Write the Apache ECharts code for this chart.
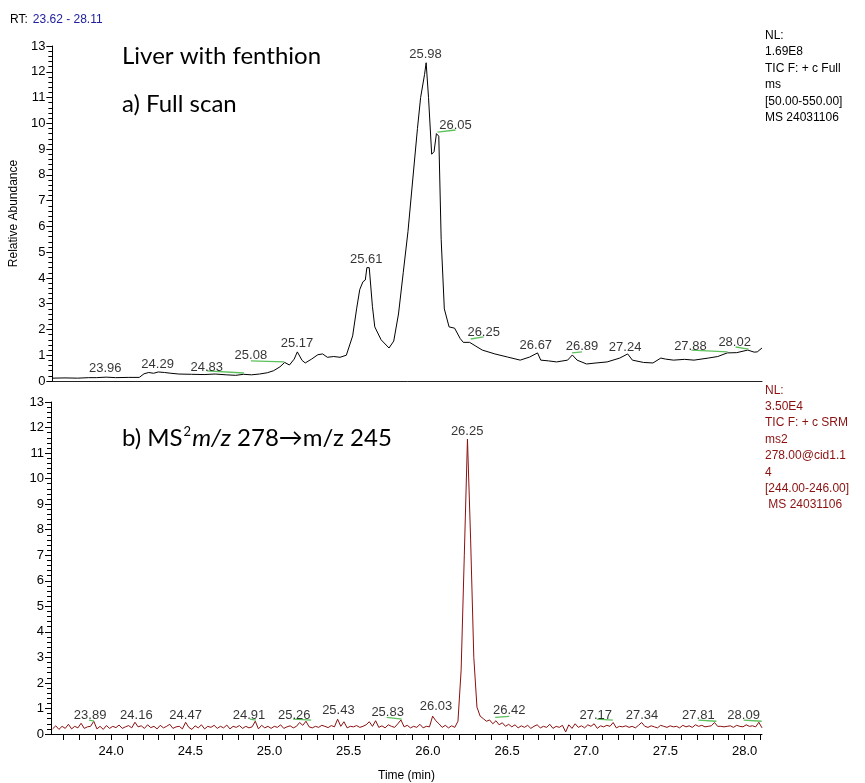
<!DOCTYPE html>
<html>
<head>
<meta charset="utf-8">
<script src="https://cdn.jsdelivr.net/npm/echarts@6/dist/echarts.min.js"></script>
<style>
html,body{margin:0;padding:0;background:#fff;}
#chart{width:865px;height:783px;}
</style>
</head>
<body>
<div id="chart"></div>
<script>
// ---------- DATA ----------
const rtMin = 23.62, rtMax = 28.11;
const yMax = 13;
const xTickLabels = [24.0, 24.5, 25.0, 25.5, 26.0, 26.5, 27.0, 27.5, 28.0];
const xMinorTicks = [23.7,23.8,23.9,24.0,24.1,24.2,24.3,24.4,24.5,24.6,24.7,24.8,24.9,25.0,25.1,25.2,25.3,25.4,25.5,25.6,25.7,25.8,25.9,26.0,26.1,26.2,26.3,26.4,26.5,26.6,26.7,26.8,26.9,27.0,27.1,27.2,27.3,27.4,27.5,27.6,27.7,27.8,27.9,28.0,28.1];

// a) Full scan TIC
const fullTimes = [23.62,23.70,23.78,23.85,23.90,23.96,24.02,24.10,24.17,24.20,24.23,24.26,24.29,24.33,24.37,24.42,24.50,24.58,24.65,24.72,24.78,24.83,24.88,24.93,24.98,25.02,25.06,25.09,25.12,25.15,25.17,25.20,25.22,25.26,25.30,25.33,25.36,25.40,25.44,25.48,25.52,25.545,25.565,25.585,25.60,25.61,25.625,25.645,25.66,25.70,25.75,25.78,25.81,25.84,25.87,25.90,25.93,25.95,25.975,25.985,26.00,26.02,26.035,26.05,26.065,26.08,26.10,26.13,26.165,26.20,26.22,26.26,26.30,26.34,26.42,26.50,26.58,26.64,26.69,26.71,26.76,26.81,26.88,26.91,26.94,27.00,27.06,27.13,27.21,27.26,27.29,27.36,27.42,27.47,27.50,27.55,27.62,27.68,27.77,27.83,27.89,27.95,28.02,28.06,28.08,28.11];
const fullValues = [0.11,0.12,0.11,0.13,0.13,0.15,0.13,0.14,0.14,0.28,0.33,0.30,0.35,0.33,0.30,0.27,0.26,0.25,0.27,0.24,0.22,0.26,0.24,0.27,0.32,0.40,0.55,0.72,0.62,0.85,1.13,0.80,0.70,0.85,1.02,1.05,0.92,0.95,0.92,1.00,1.75,2.80,3.55,3.85,3.92,4.40,4.40,2.90,2.10,1.60,1.28,1.55,2.60,4.20,5.80,7.80,9.80,11.00,11.90,12.35,11.00,8.80,8.90,9.60,9.50,5.50,2.80,2.10,2.05,1.65,1.50,1.50,1.35,1.20,1.05,0.93,0.81,0.93,1.09,0.81,0.78,0.74,0.81,1.01,0.81,0.66,0.70,0.74,0.89,1.05,0.81,0.72,0.70,0.89,0.85,0.81,0.84,0.81,0.89,0.95,1.09,1.10,1.20,1.12,1.13,1.28];

// peak labels (text, anchor time, anchor abundance)
const fullPeakText = ['23.96','24.29','24.83','25.08','25.17','25.61','25.98','26.05','26.25','26.67','26.89','27.24','27.88','28.02'];
const fullPeakLabelT = [23.955,24.286,24.597,24.876,25.168,25.606,25.981,26.171,26.349,26.679,26.971,27.244,27.657,27.937];
const fullPeakLabelV = [0.50,0.66,0.54,1.01,1.47,4.70,12.69,9.90,1.90,1.40,1.36,1.32,1.36,1.51];
// green baseline marks [t1, v1, t2, v2]
const fullBaseMarks = [
  [24.597,0.39,24.832,0.31],
  [24.876,0.78,25.086,0.74],
  [26.057,9.66,26.171,9.74],
  [26.267,1.63,26.349,1.71],
  [26.908,1.09,26.971,1.13],
  [27.663,1.20,27.892,1.13],
  [27.943,1.32,28.025,1.24]
];

// b) SRM trace, sampled every srmStep min from srmStart
const srmStart = 23.63, srmStep = 0.02;
const srmValues = [
  0.20,0.32,0.18,0.30,0.22, 0.38,0.20,0.30,0.24,0.42, 0.22,0.28,0.30,0.50,0.20, 0.30,0.18,0.33,0.22,0.30,
  0.25,0.35,0.22,0.28,0.33, 0.24,0.46,0.28,0.32,0.22, 0.36,0.25,0.30,0.20,0.34, 0.24,0.30,0.38,0.22,0.28,
  0.30,0.20,0.46,0.26,0.18, 0.32,0.24,0.36,0.20,0.30, 0.26,0.34,0.22,0.30,0.24, 0.35,0.20,0.30,0.26,0.33,
  0.22,0.30,0.24,0.28,0.50, 0.20,0.34,0.24,0.30,0.22, 0.30,0.26,0.36,0.22,0.28, 0.32,0.24,0.30,0.45,0.34,
  0.50,0.28,0.24,0.30,0.26, 0.34,0.30,0.25,0.33,0.28, 0.58,0.30,0.48,0.24,0.30, 0.28,0.33,0.26,0.30,0.36,
  0.48,0.30,0.52,0.26,0.32, 0.24,0.36,0.30,0.26,0.40, 0.55,0.28,0.34,0.24,0.30, 0.26,0.38,0.24,0.30,0.28,
  0.70,0.52,0.40,0.26,0.34, 0.24,0.32,0.26,0.50,2.50, 7.00,11.55,7.60,3.00,1.05, 0.70,0.60,0.50,0.55,0.40,
  0.52,0.36,0.44,0.30,0.38, 0.28,0.36,0.24,0.32,0.26, 0.34,0.22,0.30,0.36,0.24, 0.30,0.26,0.38,0.22,0.30,
  0.26,0.34,0.08,0.36,0.22, 0.40,0.26,0.32,0.24,0.36, 0.30,0.40,0.22,0.32,0.28, 0.34,0.30,0.45,0.24,0.30,
  0.28,0.32,0.26,0.30,0.24, 0.34,0.45,0.30,0.26,0.32, 0.28,0.24,0.34,0.30,0.26, 0.32,0.28,0.30,0.24,0.34,
  0.28,0.32,0.26,0.36,0.30, 0.34,0.28,0.30,0.32,0.45, 0.30,0.30,0.28,0.30,0.32, 0.26,0.34,0.30,0.28,0.36,
  0.30,0.32,0.28,0.46,0.24
];
const srmPeakText = ['23.89','24.16','24.47','24.91','25.26','25.43','25.83','26.03','26.25','26.42','27.17','27.34','27.81','28.09'];
const srmPeakLabelT = [23.867,24.159,24.470,24.870,25.156,25.435,25.746,26.051,26.248,26.514,27.060,27.352,27.708,27.994];
const srmPeakLabelV = [0.73,0.73,0.73,0.73,0.73,0.92,0.85,1.08,11.85,0.92,0.73,0.73,0.73,0.73];
const srmBaseMarks = [
  [23.860,0.54,23.892,0.50],
  [24.876,0.58,24.914,0.54],
  [25.149,0.58,25.263,0.54],
  [25.740,0.65,25.835,0.58],
  [26.425,0.65,26.514,0.69],
  [27.067,0.58,27.168,0.54],
  [27.708,0.54,27.822,0.50],
  [27.994,0.54,28.108,0.50]
];

const fullInfo = 'NL:\n1.69E8\nTIC F: + c Full\nms\n[50.00-550.00]\nMS 24031106';
const srmInfo = 'NL:\n3.50E4\nTIC F: + c SRM\nms2\n278.00@cid1.1\n4\n[244.00-246.00]\n MS 24031106';

// ---------- BUILD ----------
const fullData = fullTimes.map((t, i) => [t, fullValues[i]]);
const srmData = srmValues.map((v, i) => [+(srmStart + i * srmStep).toFixed(3), v]);
const mkLabels = (txt, ts, vs) => txt.map((s, i) => [ts[i], vs[i], s]);
const mkMarks = arr => arr.map(m => [{coord: [m[0], m[1]]}, {coord: [m[2], m[3]]}]);

const SANS = '"Liberation Sans", Arial, sans-serif';
const BIG = '24px Lato, "Open Sans", sans-serif';
const GREEN = '#5cc05c';
const RED = '#8b1010';

function yAxisCfg(gi, withName) {
  return {
    type: 'value', gridIndex: gi, min: 0, max: yMax, interval: 1,
    name: withName ? 'Relative Abundance' : '',
    nameLocation: 'middle', nameRotate: 90, nameGap: 28,
    nameTextStyle: {fontFamily: SANS, fontSize: 12, color: '#000'},
    axisLine: {show: true, lineStyle: {color: '#000', width: 1}},
    axisTick: {show: true, length: 6, lineStyle: {color: '#000'}},
    minorTick: {show: true, splitNumber: 5, length: 4, lineStyle: {color: '#000'}},
    axisLabel: {fontFamily: SANS, fontSize: 13, color: '#000', margin: 7},
    splitLine: {show: false}
  };
}

function labelSeries(xi, data, marks, color) {
  return {
    type: 'scatter', xAxisIndex: xi, yAxisIndex: xi, data: data,
    symbolSize: 0, silent: true, z: 5,
    label: {show: true, position: 'inside', formatter: p => p.data[2],
      fontFamily: SANS, fontSize: 13, color: '#000'},
    markLine: {silent: true, symbol: 'none', animation: false,
      lineStyle: {color: color, width: 1.3, type: 'solid'},
      label: {show: false}, data: marks}
  };
}

const option = {
  animation: false,
  backgroundColor: '#fff',
  title: {
    left: 10, top: 11, padding: 0,
    text: '{a|RT:} {b|23.62 - 28.11}',
    textStyle: {fontWeight: 'normal', rich: {
      a: {fontFamily: SANS, fontSize: 12, fontWeight: 'normal', color: '#000'},
      b: {fontFamily: SANS, fontSize: 12, fontWeight: 'normal', color: '#2020a0'}
    }}
  },
  grid: [
    {left: 51, right: 103, top: 46, height: 335},
    {left: 51, right: 103, top: 402, height: 338}
  ],
  xAxis: [
    {type: 'value', gridIndex: 0, min: rtMin, max: rtMax,
     axisLine: {show: true, onZero: false, lineStyle: {color: '#222', width: 1}},
     axisTick: {show: false}, axisLabel: {show: false}, splitLine: {show: false}},
    {type: 'value', gridIndex: 1, min: rtMin, max: rtMax,
     name: 'Time (min)', nameLocation: 'middle', nameGap: 36,
     nameTextStyle: {fontFamily: SANS, fontSize: 12, color: '#000'},
     axisLine: {show: true, onZero: false, lineStyle: {color: '#000', width: 1}},
     axisTick: {show: true, length: 6, customValues: xMinorTicks, lineStyle: {color: '#000'}},
     axisLabel: {show: true, customValues: xTickLabels, formatter: v => Number(v).toFixed(1),
       fontFamily: SANS, fontSize: 13, color: '#000', margin: 11},
     splitLine: {show: false}}
  ],
  yAxis: [yAxisCfg(0, true), yAxisCfg(1, false)],
  series: [
    {type: 'line', xAxisIndex: 0, yAxisIndex: 0, data: fullData, showSymbol: false,
     lineStyle: {color: '#000', width: 1}, smooth: false, z: 3},
    {type: 'line', xAxisIndex: 1, yAxisIndex: 1, data: srmData, showSymbol: false,
     lineStyle: {color: RED, width: 1}, smooth: false, z: 3},
    labelSeries(0, mkLabels(fullPeakText, fullPeakLabelT, fullPeakLabelV), mkMarks(fullBaseMarks), GREEN),
    labelSeries(1, mkLabels(srmPeakText, srmPeakLabelT, srmPeakLabelV), mkMarks(srmBaseMarks), GREEN)
  ],
  graphic: [
    {type: 'text', left: 122, top: 44, style: {text: 'Liver with fenthion', font: BIG, fill: '#000'}},
    {type: 'text', left: 122, top: 92, style: {text: 'a) Full scan', font: BIG, fill: '#000'}},
    {type: 'text', left: 122, top: 425, style: {
      text: '{n|b) MS}{s|2}{i|m/z}{n| 278→m/z 245}',
      rich: {
        n: {font: BIG, fill: '#000', verticalAlign: 'bottom'},
        s: {font: '13px Lato, "Open Sans", sans-serif', fill: '#000', verticalAlign: 'top', padding: [0, 1, 12, 1]},
        i: {font: 'italic ' + BIG, fill: '#000', verticalAlign: 'bottom'}
      }}},
    {type: 'text', left: 765, top: 27, style: {text: fullInfo,
      font: '12px "Liberation Sans", Arial, sans-serif', lineHeight: 16.5, fill: '#000'}},
    {type: 'text', left: 765, top: 382, style: {text: srmInfo,
      font: '12px "Liberation Sans", Arial, sans-serif', lineHeight: 16.4, fill: RED}}
  ]
};

const chart = echarts.init(document.getElementById('chart'), null, {renderer: 'canvas'});
chart.setOption(option);
</script>
</body>
</html>
